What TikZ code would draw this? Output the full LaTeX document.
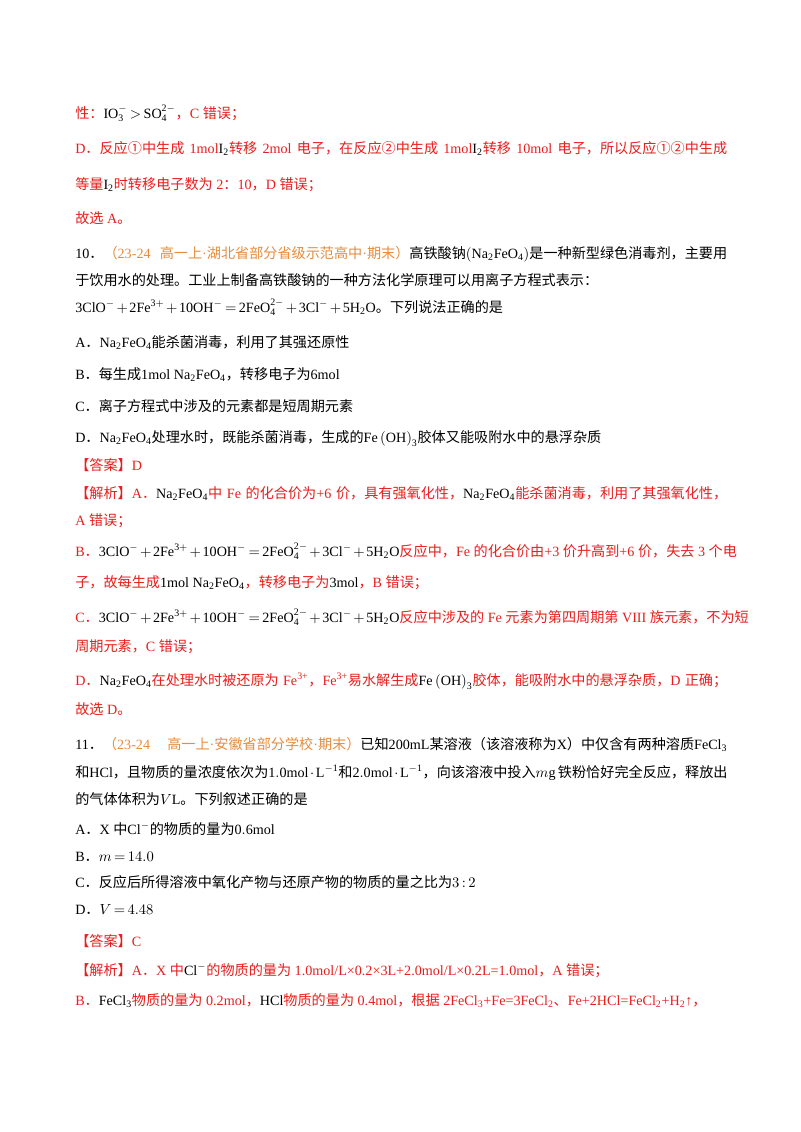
\documentclass[tikz,border=0pt]{standalone}
\usepackage{fontspec}
\setmainfont{Liberation Serif}
\newfontfamily\cjk{Noto Sans CJK SC}
\XeTeXinterchartokenstate=1
\XeTeXlinebreaklocale "zh"
\XeTeXlinebreakskip=0pt plus 3pt minus 0.5pt
\newXeTeXintercharclass\cjkcls
\count255="3000 \loop \XeTeXcharclass\count255=\cjkcls \advance\count255 1 \ifnum\count255<"A000 \repeat
\count255="FF00 \loop \XeTeXcharclass\count255=\cjkcls \advance\count255 1 \ifnum\count255<"FFF0 \repeat
\count255="2460 \loop \XeTeXcharclass\count255=\cjkcls \advance\count255 1 \ifnum\count255<"2500 \repeat
\XeTeXinterchartoks 0 \cjkcls = {\begingroup\cjk}
\XeTeXinterchartoks \cjkcls 0 = {\endgroup}
\XeTeXinterchartoks 4095 \cjkcls = {\begingroup\cjk}
\XeTeXinterchartoks \cjkcls 4095 = {\endgroup}
\definecolor{rd}{RGB}{232,30,30}
\definecolor{og}{RGB}{232,140,60}
\newcommand\R[1]{\textcolor{rd}{#1}}
\newcommand\Og[1]{\textcolor{og}{#1}}
\newcommand\ch[1]{$\mathrm{#1}$}
\newcommand\eqn{$\mathrm{3ClO^- + 2Fe^{3+} + 10OH^- = 2FeO_4^{2-} + 3Cl^- + 5H_2O}$}
\newcommand\nfo{$\mathrm{Na_2FeO_4}$}
\newcommand\full[1]{\hbox to 489pt{#1}}
\begin{document}
\thickmuskip=3mu
\medmuskip=2mu
\begin{tikzpicture}[x=0.75pt,y=-0.75pt,ln/.style={anchor=base west,inner sep=0pt,font=\fontsize{10.6}{13}\selectfont}]
\useasboundingbox (0,0) rectangle (800,1132);
\fill[white] (0,0) rectangle (800,1132);
\node[ln] (l1) at (75,118) {\R{性：}\ch{IO_3^-}${}>{}$\ch{SO_4^{2-}}\R{，C 错误；}};
\node[ln] (l2) at (75,153) {\full{\R{D．反应①中生成 1mol}\ch{I_2}\R{转移 2mol 电子，在反应②中生成 1mol}\ch{I_2}\R{转移 10mol 电子，所以反应①②中生成}}};
\node[ln] (l3) at (75,189) {\R{等量}\ch{I_2}\R{时转移电子数为 2：10，D 错误；}};
\node[ln] (l4) at (75,223) {\R{故选 A。}};
\node[ln] (l5) at (75,258) {\full{10．\Og{（23-24 高一上·湖北省部分省级示范高中·期末）}高铁酸钠$\left(\mathrm{Na_2FeO_4}\right)$是一种新型绿色消毒剂，主要用}};
\node[ln] (l6) at (75,285) {于饮用水的处理。工业上制备高铁酸钠的一种方法化学原理可以用离子方程式表示：};
\node[ln] (l7) at (75,312) {\eqn 。下列说法正确的是};
\node[ln] (l8) at (75,347) {A．\nfo 能杀菌消毒，利用了其强还原性};
\node[ln] (l9) at (75,379) {B．每生成\ch{1mol\ Na_2FeO_4}，转移电子为\ch{6mol}};
\node[ln] (l10) at (75,411) {C．离子方程式中涉及的元素都是短周期元素};
\node[ln] (l11) at (75,442) {D．\nfo 处理水时，既能杀菌消毒，生成的\ch{Fe\left(OH\right)_3}胶体又能吸附水中的悬浮杂质};
\node[ln] (l12) at (75,470) {\R{【答案】D}};
\node[ln] (l13) at (75,498) {\full{\R{【解析】A．}\nfo\R{中 Fe 的化合价为+6 价，具有强氧化性，}\nfo\R{能杀菌消毒，利用了其强氧化性，}}};
\node[ln] (l14) at (75,525) {\R{A 错误；}};
\node[ln] (l15) at (75,556) {\R{B．}\eqn\R{反应中，Fe 的化合价由+3 价升高到+6 价，失去 3 个电}};
\node[ln] (l16) at (75,587) {\R{子，故每生成}\ch{1mol\ Na_2FeO_4}\R{，转移电子为}\ch{3mol}\R{，B 错误；}};
\node[ln] (l17) at (75,622) {\R{C．}\eqn\R{反应中涉及的 Fe 元素为第四周期第 VIII 族元素，不为短}};
\node[ln] (l18) at (75,651) {\R{周期元素，C 错误；}};
\node[ln] (l19) at (75,685) {\full{\R{D．}\nfo\R{在处理水时被还原为 Fe\textsuperscript{3+}，Fe\textsuperscript{3+}易水解生成}\ch{Fe\left(OH\right)_3}\R{胶体，能吸附水中的悬浮杂质，D 正确；}}};
\node[ln] (l20) at (75,714) {\R{故选 D。}};
\node[ln] (l21) at (75,749) {\full{11．\Og{（23-24 高一上·安徽省部分学校·期末）}已知\ch{200mL}某溶液（该溶液称为\ch{X}）中仅含有两种溶质\ch{FeCl_3}}};
\node[ln] (l22) at (75,777) {\full{和\ch{HCl}，且物质的量浓度依次为\ch{1.0mol\cdot L^{-1}}和\ch{2.0mol\cdot L^{-1}}，向该溶液中投入$m$g 铁粉恰好完全反应，释放出}};
\node[ln] (l23) at (75,804) {的气体体积为$V$L。下列叙述正确的是};
\node[ln] (l24) at (75,834) {A．X 中\ch{Cl^-}的物质的量为\ch{0.6mol}};
\node[ln] (l25) at (75,861) {B．$m=14.0$};
\node[ln] (l26) at (75,887) {C．反应后所得溶液中氧化产物与还原产物的物质的量之比为$3:2$};
\node[ln] (l27) at (75,914) {D．$V=4.48$};
\node[ln] (l28) at (75,946) {\R{【答案】C}};
\node[ln] (l29) at (75,975) {\R{【解析】A．X 中}\ch{Cl^-}\R{的物质的量为 1.0mol/L×0.2×3L+2.0mol/L×0.2L=1.0mol，A 错误；}};
\node[ln] (l30) at (75,1005) {\R{B．}\ch{FeCl_3}\R{物质的量为 0.2mol，}\ch{HCl}\R{物质的量为 0.4mol，根据 2FeCl\textsubscript{3}+Fe=3FeCl\textsubscript{2}、Fe+2HCl=FeCl\textsubscript{2}+H\textsubscript{2}↑，}};
\end{tikzpicture}
\end{document}
